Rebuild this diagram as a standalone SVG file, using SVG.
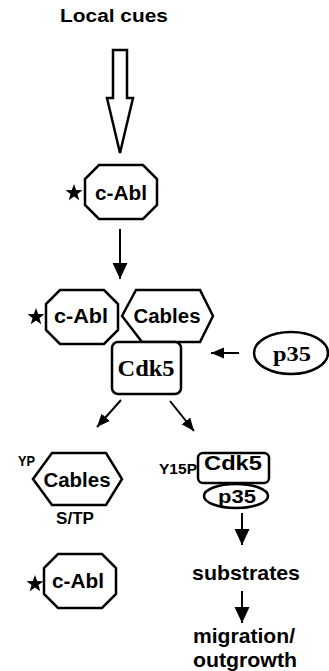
<svg xmlns="http://www.w3.org/2000/svg" width="329" height="671" viewBox="0 0 329 671">
<style>
.shape{fill:#fff;stroke:#000;stroke-width:2.5;stroke-linejoin:miter}
.line{fill:none;stroke:#000;stroke-width:2}
.t{font-family:"Liberation Sans",Arial,sans-serif;font-weight:bold;fill:#000}
.s{font-family:"Liberation Serif","Times New Roman",serif;font-weight:bold;fill:#000}
.m{text-anchor:middle}
</style>
<defs>
<path id="star" d="M0,-9 L2.12,-2.91 L8.56,-2.78 L3.42,1.11 L5.29,7.28 L0,3.6 L-5.29,7.28 L-3.42,1.11 L-8.56,-2.78 L-2.12,-2.91 Z" fill="#000"/>
<polygon id="oct" points="-22,-27 22,-27 36,-13 36,13 22,27 -22,27 -36,13 -36,-13"/>
<marker id="big" markerUnits="userSpaceOnUse" markerWidth="16" markerHeight="16" viewBox="0 0 16 16" refX="16" refY="8" orient="auto">
<polygon points="0,0.5 16,8 0,15.5" fill="#000"/>
</marker>
<marker id="small" markerUnits="userSpaceOnUse" markerWidth="13" markerHeight="12" viewBox="0 0 13 12" refX="13" refY="6" orient="auto">
<polygon points="0,0.5 13,6 0,11.5" fill="#000"/>
</marker>
</defs>

<text class="t m" x="114" y="22" font-size="18" textLength="108" lengthAdjust="spacingAndGlyphs">Local cues</text>

<g id="connectors">
<polygon class="shape" stroke-width="2.3" points="113,50 127,50 127,98 133,98 120,153 107,98 113,98"/>
<line class="line" x1="120" y1="229" x2="120" y2="279" marker-end="url(#big)"/>
<line class="line" x1="239" y1="353" x2="211" y2="353" marker-end="url(#small)"/>
<line class="line" x1="121" y1="400" x2="97" y2="427" marker-end="url(#small)"/>
<line class="line" x1="170" y1="401" x2="194" y2="431" marker-end="url(#small)"/>
<line class="line" x1="242" y1="513" x2="242" y2="545" marker-end="url(#big)"/>
<line class="line" x1="242" y1="591" x2="242" y2="623" marker-end="url(#big)"/>
</g>

<g id="cabl1">
<use href="#star" x="74" y="193"/>
<use href="#oct" class="shape" x="121" y="192"/>
<text class="t m" x="121" y="200" font-size="20" textLength="52" lengthAdjust="spacingAndGlyphs">c-Abl</text>
</g>

<g id="cabl2">
<use href="#star" x="36" y="317"/>
<use href="#oct" class="shape" x="82" y="317"/>
<text class="t m" x="81" y="323" font-size="20" textLength="54" lengthAdjust="spacingAndGlyphs">c-Abl</text>
</g>

<g id="cables1">
<polygon class="shape" points="122,316 136,290 200,290 213,316 200,342 142,342"/>
<text class="t m" x="167" y="323" font-size="20" textLength="67" lengthAdjust="spacingAndGlyphs">Cables</text>
</g>

<g id="cdk5a">
<rect class="shape" x="112" y="342" width="69" height="52" rx="6"/>
<text class="s m" x="146" y="376" font-size="24" textLength="57" lengthAdjust="spacingAndGlyphs">Cdk5</text>
</g>

<g id="p35a">
<ellipse class="shape" cx="291" cy="353" rx="37" ry="21"/>
<text class="s m" x="292" y="361" font-size="22" textLength="38" lengthAdjust="spacingAndGlyphs">p35</text>
</g>

<g id="cables2">
<polygon class="shape" points="33,479 52,453 106,453 122,479 106,505 52,505"/>
<text class="t" x="18" y="466" font-size="15" textLength="17" lengthAdjust="spacingAndGlyphs">YP</text>
<text class="t m" x="77" y="487" font-size="20" textLength="67" lengthAdjust="spacingAndGlyphs">Cables</text>
<text class="t" x="56" y="524" font-size="16" textLength="38" lengthAdjust="spacingAndGlyphs">S/TP</text>
</g>

<g id="cabl3">
<use href="#star" x="35" y="584"/>
<use href="#oct" class="shape" x="80" y="581"/>
<text class="t m" x="78" y="588" font-size="20" textLength="52" lengthAdjust="spacingAndGlyphs">c-Abl</text>
</g>

<g id="cdk5b">
<text class="t" x="159" y="474" font-size="15" textLength="38" lengthAdjust="spacingAndGlyphs">Y15P</text>
<rect class="shape" x="198" y="453" width="71" height="30" rx="5"/>
<text class="t m" x="233" y="470" font-size="21" textLength="58" lengthAdjust="spacingAndGlyphs">Cdk5</text>
</g>

<g id="p35b">
<ellipse class="shape" cx="236" cy="496" rx="32" ry="12"/>
<text class="t m" x="237" y="503" font-size="19" textLength="38" lengthAdjust="spacingAndGlyphs">p35</text>
</g>

<g id="labels">
<text class="t m" x="246" y="580" font-size="21" textLength="108" lengthAdjust="spacingAndGlyphs">substrates</text>
<text class="t m" x="244" y="643" font-size="21" textLength="102" lengthAdjust="spacingAndGlyphs">migration/</text>
<text class="t m" x="245" y="667" font-size="21" textLength="104" lengthAdjust="spacingAndGlyphs">outgrowth</text>
</g>
</svg>
